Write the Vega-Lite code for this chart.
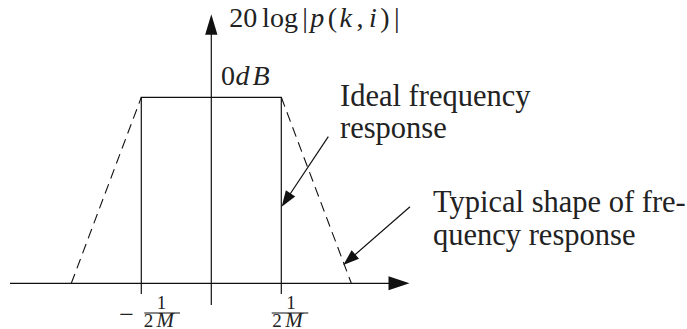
{
  "$schema": "https://vega.github.io/schema/vega-lite/v6.json",
  "width": 687,
  "height": 329,
  "autosize": "none",
  "padding": 0,
  "background": "white",
  "config": {"view": {"stroke": null}},
  "datasets": {
    "lines": [
      {"seg": "xaxis", "style": "solid", "k": 0, "f": -2.8757, "a": 0},
      {"seg": "xaxis", "style": "solid", "k": 1, "f": 2.6814, "a": 0},
      {"seg": "yaxis", "style": "solid", "k": 0, "f": 0, "a": -0.1167},
      {"seg": "yaxis", "style": "solid", "k": 1, "f": 0, "a": 1.3914},
      {"seg": "ideal", "style": "solid", "k": 0, "f": -1, "a": -0.0575},
      {"seg": "ideal", "style": "solid", "k": 1, "f": -1, "a": 1},
      {"seg": "ideal", "style": "solid", "k": 2, "f": 1, "a": 1},
      {"seg": "ideal", "style": "solid", "k": 3, "f": 1, "a": -0.0575},
      {"seg": "arrow1", "style": "solid", "k": 0, "f": 1.6714, "a": 0.7882},
      {"seg": "arrow1", "style": "solid", "k": 1, "f": 1.0686, "a": 0.4478},
      {"seg": "arrow2", "style": "solid", "k": 0, "f": 2.8386, "a": 0.4118},
      {"seg": "arrow2", "style": "solid", "k": 1, "f": 1.9714, "a": 0.1269},
      {"seg": "typL", "style": "dashed", "k": 0, "f": -2, "a": 0},
      {"seg": "typL", "style": "dashed", "k": 1, "f": -1, "a": 1},
      {"seg": "typR", "style": "dashed", "k": 0, "f": 1, "a": 1},
      {"seg": "typR", "style": "dashed", "k": 1, "f": 2, "a": 0}
    ],
    "heads": [
      {"id": "xaxis", "f": 2.6814, "a": 0},
      {"id": "yaxis", "f": 0, "a": 1.3914},
      {"id": "arrow1", "f": 1.0686, "a": 0.4478},
      {"id": "arrow2", "f": 1.9714, "a": 0.1269}
    ],
    "bars": [
      {"f": -0.9571, "f2": -0.4471, "a": -0.1597},
      {"f": 0.8629, "f2": 1.3857, "a": -0.1597}
    ],
    "texts": [
      {"role": "note", "t": "Ideal  frequency", "f": 1.8386, "a": 0.9532},
      {"role": "note", "t": "response", "f": 1.8386, "a": 0.7812},
      {"role": "note", "t": "Typical shape of fre-", "f": 3.1671, "a": 0.3833},
      {"role": "note", "t": "quency response", "f": 3.1671, "a": 0.2059},
      {"role": "label", "t": "20", "f": 0.4571, "a": 1.3796},
      {"role": "label", "t": "log", "f": 0.9814, "a": 1.3796},
      {"role": "label", "t": "|", "f": 1.3386, "a": 1.3796},
      {"role": "labelvar", "t": "p", "f": 1.5143, "a": 1.3796},
      {"role": "label", "t": "(", "f": 1.7286, "a": 1.3796},
      {"role": "labelvar", "t": "k", "f": 1.9214, "a": 1.3796},
      {"role": "label", "t": ",", "f": 2.1243, "a": 1.3796},
      {"role": "labelvar", "t": "i", "f": 2.31, "a": 1.3796},
      {"role": "label", "t": ")", "f": 2.4814, "a": 1.3796},
      {"role": "label", "t": "|", "f": 2.6486, "a": 1.3796},
      {"role": "label", "t": "0", "f": 0.2386, "a": 1.0661},
      {"role": "labelvar", "t": "d", "f": 0.4457, "a": 1.0661},
      {"role": "labelvar", "t": "B", "f": 0.71, "a": 1.0661},
      {"role": "minus", "t": "−", "f": -1.2114, "a": -0.2118},
      {"role": "tick", "t": "1", "f": -0.7114, "a": -0.1355},
      {"role": "tick", "t": "2", "f": -0.8971, "a": -0.2323},
      {"role": "tickvar", "t": "M", "f": -0.6571, "a": -0.2323},
      {"role": "tick", "t": "1", "f": 1.1386, "a": -0.1355},
      {"role": "tick", "t": "2", "f": 0.9386, "a": -0.2323},
      {"role": "tickvar", "t": "M", "f": 1.1814, "a": -0.2323}
    ]
  },
  "encoding": {
    "x": {"field": "f", "type": "quantitative", "scale": {"domain": [-3.0186, 6.7957], "nice": false, "zero": false}, "axis": null},
    "y": {"field": "a", "type": "quantitative", "scale": {"domain": [-0.2457, 1.5231], "nice": false, "zero": false}, "axis": null}
  },
  "layer": [
    {
      "data": {"name": "lines"},
      "transform": [{"filter": "datum.style === 'solid'"}],
      "mark": {"type": "line", "color": "#111111", "strokeWidth": 1.2},
      "encoding": {"detail": {"field": "seg"}, "order": {"field": "k", "type": "quantitative"}}
    },
    {
      "data": {"name": "lines"},
      "transform": [{"filter": "datum.style === 'dashed'"}],
      "mark": {"type": "line", "color": "#111111", "strokeWidth": 1.1, "strokeDash": [10, 6]},
      "encoding": {"detail": {"field": "seg"}, "order": {"field": "k", "type": "quantitative"}}
    },
    {
      "data": {"name": "bars"},
      "mark": {"type": "rule", "color": "#111111", "strokeWidth": 1},
      "encoding": {"x2": {"field": "f2"}}
    },
    {
      "data": {"name": "heads"},
      "transform": [{"filter": "datum.id === 'xaxis'"}],
      "mark": {"type": "point", "shape": "M1,0L-1,-0.66L-1,0.66Z", "filled": true, "color": "#111111", "opacity": 1, "size": 441, "angle": 0}
    },
    {
      "data": {"name": "heads"},
      "transform": [{"filter": "datum.id === 'yaxis'"}],
      "mark": {"type": "point", "shape": "M1,0L-1,-0.6L-1,0.6Z", "filled": true, "color": "#111111", "opacity": 1, "size": 420, "angle": 270}
    },
    {
      "data": {"name": "heads"},
      "transform": [{"filter": "datum.id === 'arrow1'"}],
      "mark": {"type": "point", "shape": "M1,0L-1,-0.7L-1,0.7Z", "filled": true, "color": "#111111", "opacity": 1, "size": 256, "angle": 123.65}
    },
    {
      "data": {"name": "heads"},
      "transform": [{"filter": "datum.id === 'arrow2'"}],
      "mark": {"type": "point", "shape": "M1,0L-1,-0.7L-1,0.7Z", "filled": true, "color": "#111111", "opacity": 1, "size": 256, "angle": 138.84}
    },
    {
      "data": {"name": "texts"},
      "transform": [{"filter": "datum.role === 'note'"}],
      "mark": {"type": "text", "font": "Liberation Serif", "fontSize": 30.5, "align": "left", "baseline": "alphabetic", "color": "#222222"},
      "encoding": {"text": {"field": "t"}}
    },
    {
      "data": {"name": "texts"},
      "transform": [{"filter": "datum.role === 'label'"}],
      "mark": {"type": "text", "font": "Liberation Serif", "fontSize": 28, "align": "center", "baseline": "alphabetic", "color": "#222222"},
      "encoding": {"text": {"field": "t"}}
    },
    {
      "data": {"name": "texts"},
      "transform": [{"filter": "datum.role === 'labelvar'"}],
      "mark": {"type": "text", "font": "Liberation Serif", "fontStyle": "italic", "fontSize": 28, "align": "center", "baseline": "alphabetic", "color": "#222222"},
      "encoding": {"text": {"field": "t"}}
    },
    {
      "data": {"name": "texts"},
      "transform": [{"filter": "datum.role === 'minus'"}],
      "mark": {"type": "text", "font": "Liberation Serif", "fontSize": 26, "align": "center", "baseline": "alphabetic", "color": "#222222"},
      "encoding": {"text": {"field": "t"}}
    },
    {
      "data": {"name": "texts"},
      "transform": [{"filter": "datum.role === 'tick'"}],
      "mark": {"type": "text", "font": "Liberation Serif", "fontSize": 19, "align": "center", "baseline": "alphabetic", "color": "#222222"},
      "encoding": {"text": {"field": "t"}}
    },
    {
      "data": {"name": "texts"},
      "transform": [{"filter": "datum.role === 'tickvar'"}],
      "mark": {"type": "text", "font": "Liberation Serif", "fontStyle": "italic", "fontSize": 21, "align": "center", "baseline": "alphabetic", "color": "#222222"},
      "encoding": {"text": {"field": "t"}}
    }
  ]
}
